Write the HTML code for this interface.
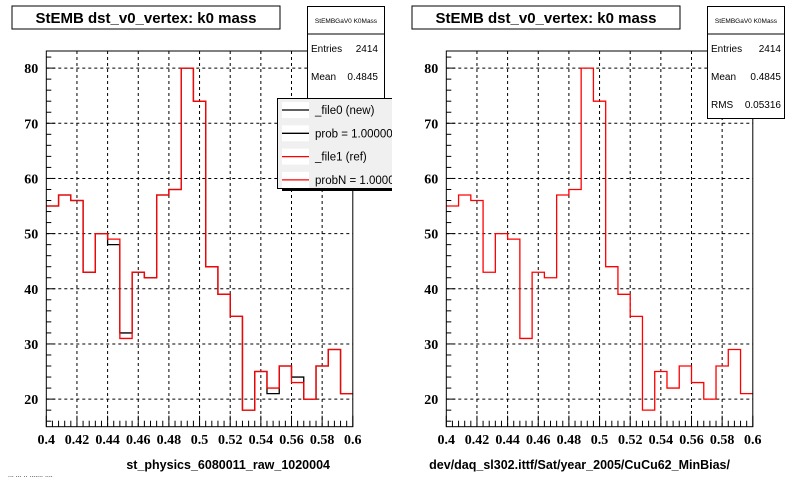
<!DOCTYPE html>
<html><head><meta charset="utf-8"><style>
body{margin:0;background:#fff;}
svg{display:block;font-family:"Liberation Sans",sans-serif;}
.tick{font-family:"Liberation Serif",serif;font-weight:bold;font-size:14px;}
</style></head><body>
<svg id="c" width="800" height="480" xmlns="http://www.w3.org/2000/svg">
<defs><clipPath id="clipL"><rect x="0" y="0" width="392" height="480"/></clipPath></defs>
</svg>
<script>
const binEdgesStart = 0.4, binWidth = 0.008;
const refValues = [55,57,56,43,50,49,31,43,42,57,58,80,74,44,39,35,18,25,22,26,23,20,26,29,21];
const newValues = [55,57,56,43,50,48,32,43,42,57,58,80,74,44,39,35,18,25,21,26,24,20,26,29,21];
const xTicks = [0.4,0.42,0.44,0.46,0.48,0.5,0.52,0.54,0.56,0.58,0.6];
const xTickLabels = ["0.4","0.42","0.44","0.46","0.48","0.5","0.52","0.54","0.56","0.58","0.6"];
const yTicks = [20,30,40,50,60,70,80];
const xTitles = ["st_physics_6080011_raw_1020004","dev/daq_sl302.ittf/Sat/year_2005/CuCu62_MinBias/"];
const NS="http://www.w3.org/2000/svg";
const svg=document.getElementById('c');
function el(tag,attrs,parent){const e=document.createElementNS(NS,tag);for(const k in attrs)e.setAttribute(k,attrs[k]);(parent||svg).appendChild(e);return e;}
const X0=46.3,X1=352.8,Y0=426.7,Y1=51,xmin=0.4,xmax=0.6,ymin=15,ymax=83.1;
function drawPad(ox,idx){
  const g=el('g',{transform:`translate(${ox},0)`});
  
  
  if(idx===0) g.setAttribute('clip-path','url(#clipL)');
  const sx=v=>X0+(v-xmin)/(xmax-xmin)*(X1-X0);
  const sy=v=>Y0-(v-ymin)/(ymax-ymin)*(Y0-Y1);
  xTicks.forEach(t=>{if(t>xmin+1e-9&&t<xmax-1e-9){const l=el('line',{x1:sx(t),x2:sx(t),y1:Y1,y2:Y0,stroke:'#000','stroke-dasharray':'3,3','stroke-width':1},g);
    
    }});
  yTicks.forEach(t=>{const l=el('line',{x1:X0,x2:X1,y1:sy(t),y2:sy(t),stroke:'#000','stroke-dasharray':'3,3','stroke-width':1},g);
    
    });
  function histPath(vals){let d=`M${sx(binEdgesStart)},${sy(vals[0])}`;vals.forEach((v,i)=>{const a=binEdgesStart+i*binWidth,b=a+binWidth;d+=` L${sx(a)},${sy(v)} L${sx(b)},${sy(v)}`;});return d;}
  if(idx===0){
    const hn=el('path',{d:histPath(newValues),fill:'none',stroke:'#000','stroke-width':1.3},g);
    
    
  }
  const hr=el('path',{d:histPath(refValues),fill:'none',stroke:'#f00','stroke-width':1.3},g);
  
  
  const fr=el('rect',{x:X0,y:Y1,width:X1-X0,height:Y0-Y1,fill:'none',stroke:'#000','stroke-width':1},g);
  
  
  for(let v=16;v<=ymax;v+=2){const maj=v%10===0;el('line',{x1:X0,x2:X0+(maj?9:5),y1:sy(v),y2:sy(v),stroke:'#000'},g);}
  yTicks.forEach(t=>{const tx=el('text',{x:X0-8,y:sy(t)+5,'text-anchor':'end',class:'tick'},g);tx.textContent=t;
    
    });
  for(let i=0;i<=50;i++){const v=xmin+i*0.004;const maj=i%5===0;el('line',{x1:sx(v),x2:sx(v),y1:Y0,y2:Y0-(maj?11:6),stroke:'#000'},g);}
  xTicks.forEach((t,i)=>{const tx=el('text',{x:sx(t),y:444,'text-anchor':'middle',class:'tick'},g);tx.textContent=xTickLabels[i];
    
    });
  const xt=el('text',{x:330,y:469,'text-anchor':'end','font-size':'12.5','font-weight':'bold'},g);xt.textContent=xTitles[idx];
  
  
  const tb=el('g',{},g);
  
  
  el('rect',{x:12,y:6,width:268,height:23,fill:'#fff',stroke:'#000'},tb);
  const tt=el('text',{x:146,y:23,'text-anchor':'middle','font-size':'15','font-weight':'bold'},tb);tt.textContent='StEMB dst_v0_vertex: k0 mass';
  const sb=el('g',{},g);
  
  
  el('rect',{x:307.5,y:6.5,width:77,height:112,fill:'#fff',stroke:'#000'},sb);
  el('line',{x1:307.5,x2:384.5,y1:34,y2:34,stroke:'#000'},sb);
  const sh=el('text',{x:346,y:23,'text-anchor':'middle','font-size':'6.5'},sb);sh.textContent='StEMBGaV0 K0Mass';
  const rows=[['Entries','2414'],['Mean','0.4845'],['RMS','0.05316']];
  rows.forEach((r,i)=>{const a=el('text',{x:311,y:52+i*28,'font-size':'10'},sb);a.textContent=r[0];
    const b=el('text',{x:(idx===0?378:381),y:52+i*28,'text-anchor':'end','font-size':'10'},sb);b.textContent=r[1];});
  if(idx===0){
    const lg=el('g',{},g);
    
    
    el('rect',{x:282,y:101,width:118,height:90,fill:'#000'},lg);
    el('rect',{x:277.5,y:98.5,width:120,height:90,fill:'#f0f0f0',stroke:'#000'},lg);
    const items=[['_file0 (new)','#000'],['prob = 1.000000','#000'],['_file1 (ref)','#f00'],['probN = 1.000000','#f00']];
    items.forEach((it,i)=>{const y=110+i*23.3;
      const e=el('g',{},lg);
      
      
      el('rect',{x:282,y:y-8,width:27,height:16,fill:'#fff'},e);
      el('line',{x1:282,x2:309,y1:y,y2:y,stroke:it[1],'stroke-width':1.3},e);
      const t=el('text',{x:315,y:y+4,'font-size':'11.5'},e);t.textContent=it[0];});
  }
}
drawPad(0,0);
drawPad(400,1);
const ft=el('text',{x:8,y:477,'font-size':'7',fill:'#000'});ft.textContent='... ... .. .......  ....';


</script>
</body></html>
